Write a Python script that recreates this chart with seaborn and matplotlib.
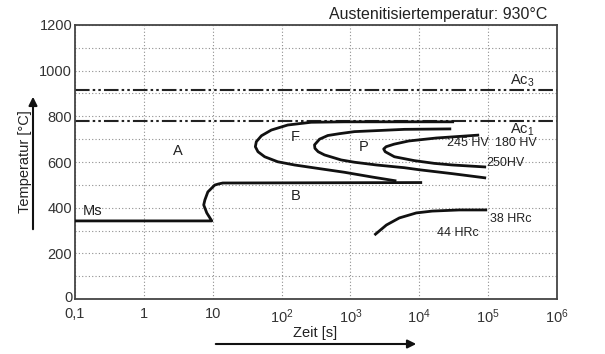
import numpy as np
import pandas as pd
import matplotlib
matplotlib.use("Agg")
import matplotlib.pyplot as plt
import matplotlib.transforms as mtransforms
from matplotlib.ticker import FixedLocator, NullFormatter
import seaborn as sns

# ---------------- data ----------------
ferrite_start_t = [32000, 3200, 818, 269, 123, 71, 51, 43, 41.6, 45.4, 56.8, 88, 154, 336, 818, 2080, 4650]
ferrite_start_T = [776, 776, 776, 774, 762, 740, 715, 689, 667, 645, 623, 601, 587, 572, 555, 534, 517]

pearlite_start_t = [29100, 6070, 1143, 690, 469, 356, 301, 305, 340, 420, 733, 1143, 2380, 6070, 10000, 30000, 93500]
pearlite_start_T = [745, 743, 733, 724, 716, 700, 675, 660, 645, 631, 609, 599, 587, 575, 566, 549, 530]

pearlite_end_t = [74100, 17600, 7000, 4300, 3300, 3040, 3200, 4350, 8470, 16500, 30100, 93500]
pearlite_end_T = [718, 705, 692, 678, 667, 657, 645, 623, 606, 594, 587, 578]

bainite_start_t = [0.1, 9.7, 8.2, 7.4, 7.7, 8.5, 10.7, 12.2, 14, 11000]
bainite_start_T = [342, 342, 377, 412, 434, 469, 499, 504, 508, 510]

bainite_end_t = [2230, 3330, 5130, 9060, 15400, 38000, 96800]
bainite_end_T = [280, 324, 355, 377, 385, 390, 390]

Ac3 = 915
Ac1 = 780

x_ticks = [0.1, 1, 10, 1e2, 1e3, 1e4, 1e5, 1e6]
x_tick_labels = ["0,1", "1", "10", "10$^2$", "10$^3$", "10$^4$", "10$^5$", "10$^6$"]
y_ticks = [0, 200, 400, 600, 800, 1000, 1200]
y_minor = [100, 300, 500, 700, 900, 1100]

title = "Austenitisiertemperatur: 930°C"
xlabel = "Zeit [s]"
ylabel = "Temperatur [°C]"

# ---------------- style ----------------
sns.set_theme(style="white")
plt.rcParams["font.family"] = ["Liberation Sans", "DejaVu Sans"]
plt.rcParams["mathtext.fontset"] = "custom"
plt.rcParams["mathtext.rm"] = "Liberation Sans"
plt.rcParams["mathtext.it"] = "Liberation Sans:italic"
plt.rcParams["mathtext.bf"] = "Liberation Sans:bold"

fig = plt.figure(figsize=(6.05, 3.54), dpi=100)
ax = fig.add_axes([75 / 605, 1 - 299 / 354, (557 - 75) / 605, (299 - 25) / 354])

curves = [
    (ferrite_start_t, ferrite_start_T),
    (pearlite_start_t, pearlite_start_T),
    (pearlite_end_t, pearlite_end_T),
    (bainite_start_t, bainite_start_T),
    (bainite_end_t, bainite_end_T),
]
for t, T in curves:
    df = pd.DataFrame({"t": t, "T": T})
    sns.lineplot(data=df, x="t", y="T", sort=False, estimator=None, ax=ax,
                 color="#111111", lw=2.0, solid_capstyle="butt",
                 solid_joinstyle="round", zorder=3)

ax.set_xscale("log")
ax.set_xlim(0.1, 1e6)
ax.set_ylim(0, 1200)

# Ac lines
for v in (Ac3, Ac1):
    ax.axhline(v, color="#222222", lw=1.5, dashes=(7, 1.5, 1.2, 1.5, 1.2, 1.5), zorder=2)

# ticks & grid
ax.xaxis.set_major_locator(FixedLocator(x_ticks))
ax.xaxis.set_minor_locator(FixedLocator([]))
ax.set_xticklabels(x_tick_labels)
ax.yaxis.set_major_locator(FixedLocator(y_ticks))
ax.yaxis.set_minor_locator(FixedLocator(y_minor))
ax.yaxis.set_minor_formatter(NullFormatter())
ax.tick_params(axis="both", which="both", length=0, labelsize=10.5, colors="#333333")
ax.tick_params(axis="x", pad=6)
ax.tick_params(axis="y", pad=2)
ax.grid(True, which="both", axis="y", color="#8f8f8f", lw=0.8, ls=(0, (1, 2)))
ax.grid(True, which="major", axis="x", color="#8f8f8f", lw=0.8, ls=(0, (1, 2)))
ax.set_xlabel("")
ax.set_ylabel("")

# nudge the "0" y-label up a little so it does not collide with "0,1"
zero_lab = ax.get_yticklabels()[0]
zero_lab.set_transform(zero_lab.get_transform() +
                       mtransforms.ScaledTranslation(0, 3 / 100, fig.dpi_scale_trans))

for s in ax.spines.values():
    s.set_visible(True)
    s.set_color("#444444")
    s.set_linewidth(1.3)

# region labels
lab_kw = dict(fontsize=10.5, color="#222222", ha="center", va="center")
ax.text(3.1, 648, "A", **lab_kw)
ax.text(160, 710, "F", **lab_kw)
ax.text(1540, 666, "P", **lab_kw)
ax.text(160, 451, "B", **lab_kw)
ax.text(0.13, 385, "Ms", fontsize=10.5, color="#222222", ha="left", va="center")

small_kw = dict(fontsize=9, color="#222222", va="center")
ax.text(50000, 683, "245 HV", ha="center", **small_kw)
ax.text(250000, 683, "180 HV", ha="center", **small_kw)
ax.text(95000, 596, "250HV", ha="left", **small_kw)
ax.text(210000, 350, "38 HRc", ha="center", **small_kw)
ax.text(36000, 289, "44 HRc", ha="center", **small_kw)
ax.text(210000, Ac3 + 4, "Ac$_3$", fontsize=10.5, color="#222222", ha="left", va="bottom")
ax.text(210000, Ac1 - 40, "Ac$_1$", fontsize=10.5, color="#222222", ha="left", va="center")

# title & axis labels with arrows
fig.text(547 / 605, 1 - 15 / 354, title, ha="right", va="center", fontsize=11.5, color="#222222")
fig.text(25 / 605, 1 - 162 / 354, ylabel, rotation=90, ha="center", va="center",
         fontsize=10.5, color="#222222")
fig.text(315 / 605, 1 - 333 / 354, xlabel, ha="center", va="center",
         fontsize=10.5, color="#222222")
fig.patches.append(matplotlib.patches.FancyArrowPatch(
    (33 / 605, 1 - 232 / 354), (33 / 605, 1 - 94 / 354), transform=fig.transFigure,
    arrowstyle="-|>,head_length=5,head_width=2.5", color="#111111", lw=1.5))
fig.patches.append(matplotlib.patches.FancyArrowPatch(
    (213 / 605, 1 - 344 / 354), (419 / 605, 1 - 344 / 354), transform=fig.transFigure,
    arrowstyle="-|>,head_length=5,head_width=2.5", color="#111111", lw=1.5))

fig.savefig("out.png", dpi=100)
